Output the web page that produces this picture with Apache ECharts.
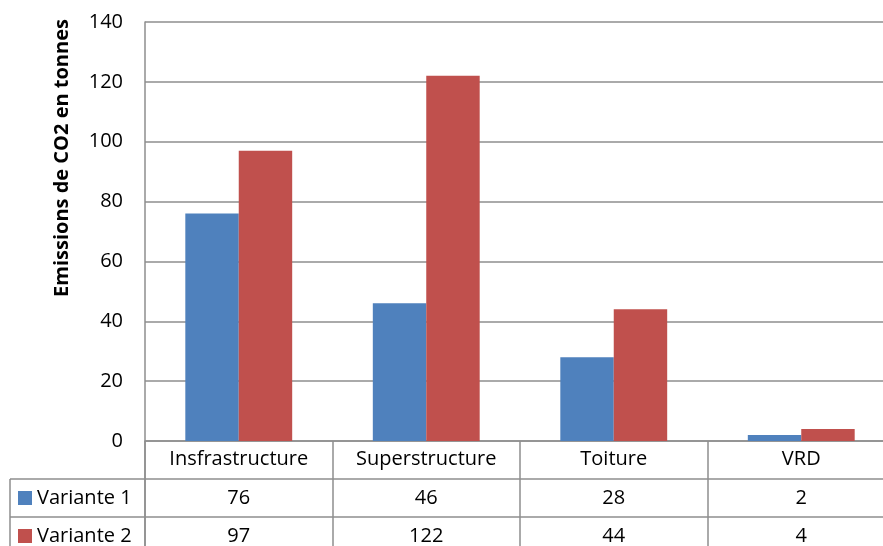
<!DOCTYPE html>
<html>
<head>
<meta charset="utf-8">
<script src="https://cdn.jsdelivr.net/npm/echarts@6/dist/echarts.min.js"></script>
<style>
html, body { margin: 0; padding: 0; background: #fff; }
#charts { width: 883px; height: 546px; }
</style>
</head>
<body>
<div id="charts"></div>
<script>
// données du graphique
var categories = ['Insfrastructure', 'Superstructure', 'Toiture', 'VRD'];
var variante1 = [76, 46, 28, 2];
var variante2 = [97, 122, 44, 4];
var seriesNames = ['Variante 1', 'Variante 2'];
var colors = ['#4F81BD', '#C0504D'];
var yTicks = [0, 20, 40, 60, 80, 100, 120, 140];

var font = '"Open Sans", sans-serif';
var lineColor = '#8e8e8e';
var rowH = 38;

var myChart = echarts.init(document.getElementById('charts'));

var option = {
    animation: false,
    textStyle: { fontFamily: font },
    grid: { left: 145, top: 22, width: 750, height: 419, containLabel: false, outerBoundsMode: 'none' },
    xAxis: {
        type: 'category',
        data: categories,
        axisLine: { show: true, lineStyle: { color: lineColor, width: 1.5 } },
        axisTick: { show: true, length: 120, lineStyle: { color: lineColor, width: 1.5 } },
        axisLabel: { color: '#000', fontSize: 20, fontFamily: font, margin: 8 }
    },
    yAxis: {
        type: 'value',
        min: yTicks[0],
        max: yTicks[yTicks.length - 1],
        interval: 20,
        axisLine: { show: true, lineStyle: { color: lineColor, width: 1.5 } },
        axisTick: { show: false },
        axisLabel: { color: '#000', fontSize: 20, fontFamily: font, margin: 22 },
        splitLine: { lineStyle: { color: lineColor, width: 1.5 } }
    },
    series: [
        {
            name: seriesNames[0], type: 'bar', data: variante1,
            itemStyle: { color: colors[0] },
            barGap: '0%', barCategoryGap: '43%'
        },
        {
            name: seriesNames[1], type: 'bar', data: variante2,
            itemStyle: { color: colors[1] },
            barGap: '0%', barCategoryGap: '43%'
        }
    ]
};
myChart.setOption(option);

// tableau de données sous le graphique
function buildTable() {
    var values = [variante1, variante2];
    var y0 = myChart.convertToPixel({ yAxisIndex: 0 }, 0);
    var x0 = 145;
    var els = [];
    // titre de l'axe
    els.push({
        type: 'text', x: 62, y: 158, rotation: Math.PI / 2,
        style: {
            text: 'Emissions de CO2 en tonnes', fill: '#000',
            font: 'bold 20px ' + font, align: 'center', verticalAlign: 'middle'
        }
    });
    for (var r = 0; r < 2; r++) {
        var top = y0 + rowH * (r + 1);
        // ligne horizontale
        els.push({
            type: 'line', shape: { x1: 10, y1: top, x2: 883, y2: top },
            style: { stroke: lineColor, lineWidth: 1.5 }
        });
        // légende
        els.push({
            type: 'rect', shape: { x: 18, y: top + 12, width: 14, height: 14 },
            style: { fill: colors[r] }
        });
        els.push({
            type: 'text', x: 37, y: top + rowH / 2,
            style: { text: seriesNames[r], fill: '#000', font: '20px ' + font, verticalAlign: 'middle' }
        });
        for (var i = 0; i < categories.length; i++) {
            var cx = myChart.convertToPixel({ xAxisIndex: 0 }, categories[i]);
            els.push({
                type: 'text', x: cx, y: top + rowH / 2,
                style: {
                    text: String(values[r][i]), fill: '#000', font: '20px ' + font,
                    align: 'center', verticalAlign: 'middle'
                }
            });
        }
    }
    // lignes verticales de gauche
    els.push({
        type: 'line', shape: { x1: 10, y1: y0 + rowH, x2: 10, y2: 546 },
        style: { stroke: lineColor, lineWidth: 1.5 }
    });
    els.push({
        type: 'line', shape: { x1: x0, y1: y0, x2: x0, y2: 546 },
        style: { stroke: lineColor, lineWidth: 1.5 }
    });
    myChart.setOption({ graphic: els });
}
buildTable();
</script>
</body>
</html>
